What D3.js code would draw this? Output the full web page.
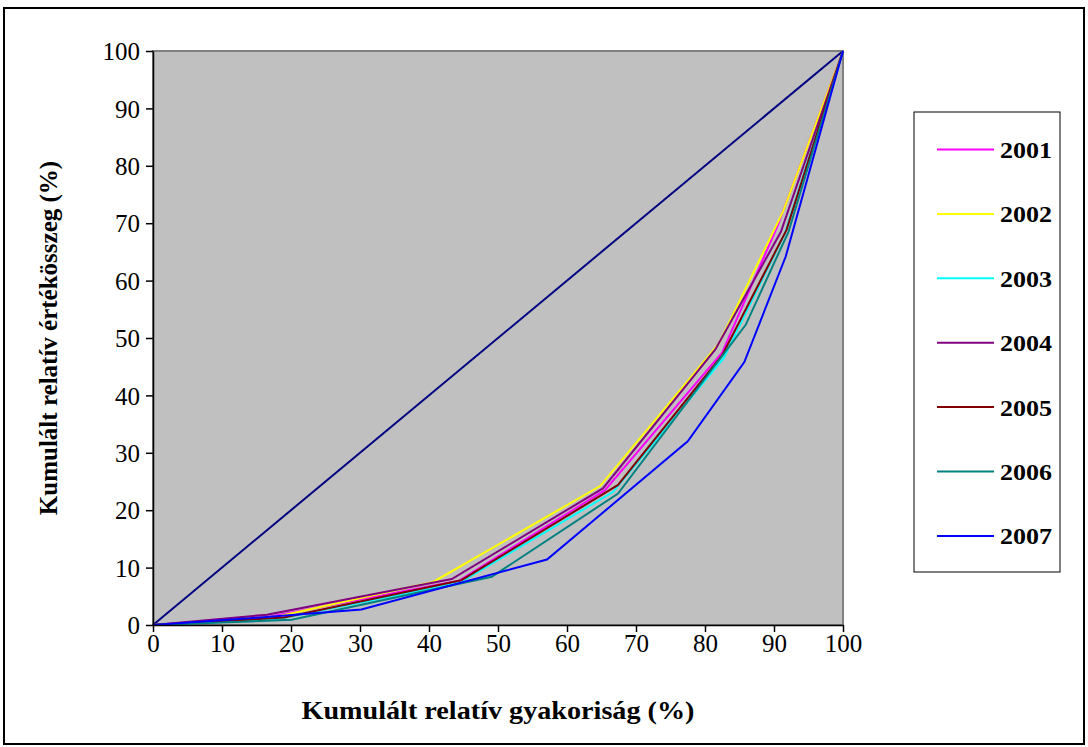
<!DOCTYPE html>
<html><head><meta charset="utf-8">
<script src="https://cdn.jsdelivr.net/npm/d3@7"></script>
<style>body{margin:0;background:#fff}svg{display:block}text{font-family:'Liberation Serif','Times New Roman',serif}</style>
</head><body>
<svg id="c" width="1088" height="747"></svg>
<script>
const years = ["2001","2002","2003","2004","2005","2006","2007"];
const colors = ["#FF00FF","#FFFF00","#00FFFF","#800080","#800000","#008080","#0000FF"];
const s2001 = [[0,0],[17,1.5],[44.3,7.7],[65.5,23.5],[82.5,47.5],[90.5,69.5],[100,100]];
const s2002 = [[0,0],[18,1.5],[40.6,7.5],[64.8,24.2],[82,49],[91.3,72],[100,100]];
const s2003 = [[0,0],[18,1.0],[44.5,7.4],[66.7,23.2],[82.7,46.5],[91.5,68],[100,100]];
const s2004 = [[0,0],[16.5,1.8],[43.3,8.0],[65.2,23.8],[81.5,48],[91,68.5],[100,100]];
const s2005 = [[0,0],[19,1.3],[44.7,7.8],[67.4,24.4],[82.5,47],[91.8,68.8],[100,100]];
const s2006 = [[0,0],[20.1,0.9],[49.1,8.4],[67.4,22.9],[85.9,52.3],[92.1,68.5],[100,100]];
const s2007 = [[0,0],[15.5,1.3],[30.2,2.7],[57.1,11.4],[77.5,32],[85.7,45.8],[91.7,64.2],[100,100]];
const equality = [[0,0],[100,100]];
const series = [s2001,s2002,s2003,s2004,s2005,s2006,s2007];
const xTicks = [0,10,20,30,40,50,60,70,80,90,100];
const yTicks = [0,10,20,30,40,50,60,70,80,90,100];
const xTitle = "Kumulált relatív gyakoriság (%)";
const yTitle = "Kumulált relatív értékösszeg (%)";

const svg = d3.select("#c");
const serif = "Liberation Serif";
svg.append("rect").attr("x",4).attr("y",8).attr("width",1080).attr("height",736)
  .attr("fill","#fff").attr("stroke","#000").attr("stroke-width",2);

const L=153,R=843,T=51,B=625;
const x = d3.scaleLinear().domain([0,100]).range([L,R]);
const y = d3.scaleLinear().domain([0,100]).range([B,T]);

svg.append("rect").attr("x",L).attr("y",T).attr("width",R-L).attr("height",B-T)
  .attr("fill","#C0C0C0").attr("stroke","#808080").attr("stroke-width",2);

const line = d3.line().x(d=>x(d[0])).y(d=>y(d[1]));
svg.append("path").attr("d",line(equality)).attr("fill","none").attr("stroke","#000080").attr("stroke-width",2);
series.forEach((s,i)=>{
  svg.append("path").attr("d",line(s)).attr("fill","none").attr("stroke",colors[i]).attr("stroke-width",2);
});

const xa = svg.append("g").attr("transform",`translate(0,${B})`)
  .call(d3.axisBottom(x).tickValues(xTicks).tickSize(7).tickSizeOuter(0).tickPadding(2));
const ya = svg.append("g").attr("transform",`translate(${L},0)`)
  .call(d3.axisLeft(y).tickValues(yTicks).tickSize(7).tickSizeOuter(0).tickPadding(6));
[xa,ya].forEach(a=>{
  a.attr("font-family",serif).attr("font-size",25);
  a.selectAll("path,line").attr("stroke","#000").attr("stroke-width",1.5);
  a.selectAll("text").attr("font-family",serif).attr("font-size",25).attr("fill","#000");
});
ya.selectAll("text").attr("dy","0.35em");

svg.append("text").attr("x",(L+R)/2).attr("y",719).attr("text-anchor","middle")
  .attr("font-family",serif).attr("font-weight","bold").attr("font-size",25)
  .attr("textLength",393).attr("lengthAdjust","spacingAndGlyphs").text(xTitle);
svg.append("text").attr("transform",`translate(57,${(T+B)/2}) rotate(-90)`).attr("text-anchor","middle")
  .attr("font-family",serif).attr("font-weight","bold").attr("font-size",25).text(yTitle);

// legend
svg.append("rect").attr("x",914).attr("y",112).attr("width",146).attr("height",460)
  .attr("fill","#fff").attr("stroke","#000").attr("stroke-width",1);
const lg = svg.append("g").selectAll("g").data(years).join("g")
  .attr("transform",(d,i)=>`translate(0,${149.5+i*64.4})`);
lg.append("line").attr("x1",937).attr("x2",994).attr("stroke",(d,i)=>colors[i]).attr("stroke-width",2);
lg.append("text").attr("x",1000).attr("dy","0.35em").attr("font-family",serif)
  .attr("font-weight","bold").attr("font-size",24)
  .attr("textLength",52).attr("lengthAdjust","spacingAndGlyphs").text(d=>d);
</script>
</body></html>
